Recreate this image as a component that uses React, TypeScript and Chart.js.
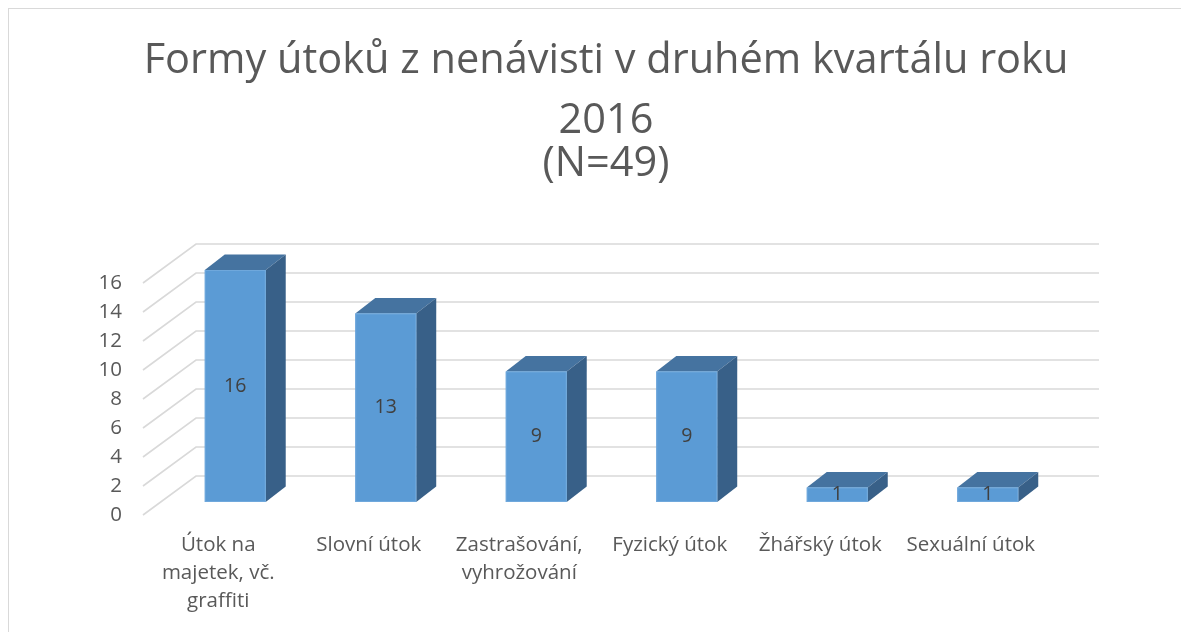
import React, { useEffect, useRef } from "react";
import { Chart, registerables } from "chart.js";

Chart.register(...registerables);

// ---- data ----
const categories: (string | string[])[] = [
  ["Útok na", "majetek, vč.", "graffiti"],
  "Slovní útok",
  ["Zastrašování,", "vyhrožování"],
  "Fyzický útok",
  "Žhářský útok",
  "Sexuální útok",
];
const values = [16, 13, 9, 9, 1, 1];
const titleLines = ["Formy útoků z nenávisti v druhém kvartálu roku", "2016", "(N=49)"];
const yMin = 0;
const yMax = 16;
const yStep = 2;

// ---- styles ----
const FONT = '"Open Sans", "Liberation Sans", sans-serif';
const TEXT = "#595959";
const WALL = { dx: 53, dy: -39 };
const BAR = { ox: 17, oy: -13, dx: 20, dy: -15.5 };
const TITLE_BASELINES = [64, 124, 167];

const wallPlugin = {
  id: "wall3d",
  beforeDatasetsDraw(chart: any) {
    const { ctx, chartArea, scales } = chart;
    const y = scales.y;
    ctx.save();
    ctx.strokeStyle = "#d9d9d9";
    ctx.lineWidth = 1.6;
    y.ticks.forEach((t: any) => {
      const py = y.getPixelForValue(t.value);
      ctx.beginPath();
      ctx.moveTo(chartArea.left, py);
      ctx.lineTo(chartArea.left + WALL.dx, py + WALL.dy);
      ctx.lineTo(chartArea.right + WALL.dx, py + WALL.dy);
      ctx.stroke();
    });
    ctx.restore();
  },
};

const bar3dPlugin = {
  id: "bar3d",
  afterDatasetsDraw(chart: any) {
    const { ctx } = chart;
    const meta = chart.getDatasetMeta(0);
    const data = chart.data.datasets[0].data;
    ctx.save();
    meta.data.forEach((el: any, i: number) => {
      const p = el.getProps(["x", "y", "base", "width"], true);
      const l = p.x - p.width / 2 + BAR.ox;
      const r = p.x + p.width / 2 + BAR.ox;
      const t = p.y + BAR.oy;
      const b = p.base + BAR.oy;
      // top face
      ctx.fillStyle = "#4573A0";
      ctx.beginPath();
      ctx.moveTo(l, t);
      ctx.lineTo(r, t);
      ctx.lineTo(r + BAR.dx, t + BAR.dy);
      ctx.lineTo(l + BAR.dx, t + BAR.dy);
      ctx.closePath();
      ctx.fill();
      // side face
      ctx.fillStyle = "#386088";
      ctx.beginPath();
      ctx.moveTo(r, t);
      ctx.lineTo(r + BAR.dx, t + BAR.dy);
      ctx.lineTo(r + BAR.dx, b + BAR.dy);
      ctx.lineTo(r, b);
      ctx.closePath();
      ctx.fill();
      // front face
      ctx.fillStyle = "#5B9BD5";
      ctx.fillRect(l, t, r - l, b - t);
      ctx.strokeStyle = "#6FA8DC";
      ctx.lineWidth = 1;
      ctx.strokeRect(l + 0.5, t + 0.5, r - l - 1, b - t - 1);
      // value label
      ctx.fillStyle = "#404040";
      ctx.font = `19.5px ${FONT}`;
      ctx.textAlign = "center";
      ctx.textBaseline = "middle";
      ctx.fillText(String(data[i]), (l + r) / 2, (t + b) / 2);
    });
    ctx.restore();
  },
};

const titlePlugin = {
  id: "title3d",
  afterDraw(chart: any) {
    const { ctx } = chart;
    ctx.save();
    ctx.fillStyle = TEXT;
    ctx.font = `41.5px ${FONT}`;
    ctx.textAlign = "center";
    ctx.textBaseline = "alphabetic";
    titleLines.forEach((line, i) => {
      ctx.fillText(line, chart.width / 2, TITLE_BASELINES[i]);
    });
    ctx.restore();
  },
};

export default function App() {
  const ref = useRef<HTMLCanvasElement>(null);
  useEffect(() => {
    document.documentElement.style.overflow = "hidden";
    document.body.style.overflow = "hidden";
    const chart = new Chart(ref.current!, {
      type: "bar",
      data: {
        labels: categories as any,
        datasets: [
          {
            data: values,
            backgroundColor: "rgba(0,0,0,0)",
            borderWidth: 0,
            categoryPercentage: 1,
            barPercentage: 0.405,
          },
        ],
      },
      options: {
        responsive: false,
        animation: false,
        layout: { padding: { top: 274, left: 0, right: 157, bottom: 0 } },
        plugins: {
          legend: { display: false },
          tooltip: { enabled: false },
          title: { display: false },
        },
        scales: {
          x: {
            grid: { display: false, drawTicks: false },
            border: { display: false },
            ticks: {
              color: TEXT,
              font: { family: FONT, size: 20.5, lineHeight: 1.366 },
              padding: 16,
              maxRotation: 0,
              autoSkip: false,
            },
            afterFit: (s: any) => {
              s.height = 117;
            },
          },
          y: {
            min: yMin,
            max: yMax,
            grid: { display: false, drawTicks: false },
            border: { display: false },
            ticks: {
              stepSize: yStep,
              color: TEXT,
              font: { family: FONT, size: 20.5 },
              padding: 21,
            },
            afterFit: (s: any) => {
              s.width = 134;
            },
          },
        },
      },
      plugins: [wallPlugin, bar3dPlugin, titlePlugin],
    });
    return () => chart.destroy();
  }, []);
  return (
    <div
      style={{
        position: "relative",
        width: 1180,
        height: 623,
        borderLeft: "1px solid #d9d9d9",
        borderTop: "1px solid #d9d9d9",
        overflow: "hidden",
        background: "#fff",
      }}
    >
      <canvas ref={ref} width={1194} height={623} style={{ display: "block" }} />
    </div>
  );
}
